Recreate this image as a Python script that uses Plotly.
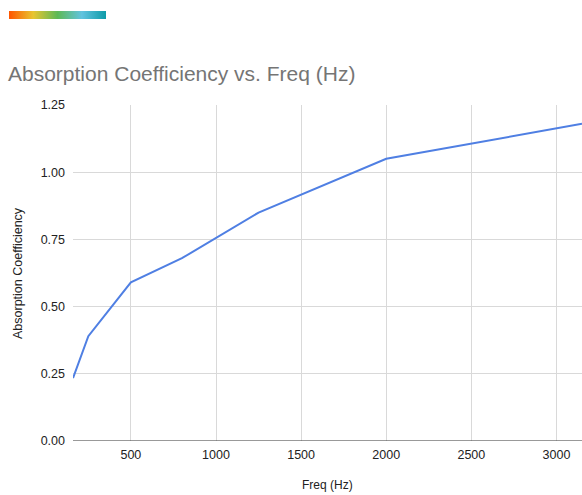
import base64
import plotly.graph_objects as go

freq_hz = [160, 250, 500, 800, 1250, 2000, 3150]
absorption = [0.234, 0.39, 0.59, 0.68, 0.85, 1.05, 1.18]
x_ticks = [500, 1000, 1500, 2000, 2500, 3000]
y_ticks = [0, 0.25, 0.5, 0.75, 1.0, 1.25]

svg = ('<svg xmlns="http://www.w3.org/2000/svg" width="100" height="8">'
       '<defs><linearGradient id="g" x1="0" x2="1" y1="0" y2="0">'
       '<stop offset="0" stop-color="#FF5500"/>'
       '<stop offset="0.25" stop-color="#E8C530"/>'
       '<stop offset="0.5" stop-color="#5DB956"/>'
       '<stop offset="0.75" stop-color="#62C3DF"/>'
       '<stop offset="1" stop-color="#0E9BA8"/>'
       '</linearGradient></defs>'
       '<rect width="100" height="8" fill="url(#g)"/></svg>')
src = "data:image/svg+xml;base64," + base64.b64encode(svg.encode()).decode()

W, H = 582, 495
ml, mr, mt, mb = 73, 0, 105, 54
pw, ph = W - ml - mr, H - mt - mb

fig = go.Figure()
fig.add_trace(go.Scatter(x=freq_hz, y=absorption, mode="lines",
                         line=dict(color="#4F7FE3", width=2), hoverinfo="x+y"))

fig.update_layout(
    width=W, height=H,
    margin=dict(l=ml, r=mr, t=mt, b=mb),
    paper_bgcolor="white", plot_bgcolor="white",
    font=dict(family="Liberation Sans, Arial, sans-serif", color="#222222", size=12),
    showlegend=False,
    title=dict(text="Absorption Coefficiency vs. Freq (Hz)", x=8 / W, xanchor="left",
               y=1 - 74 / H, yanchor="middle",
               font=dict(size=21, color="#757575")),
    xaxis=dict(range=[160, 3150], tickvals=x_ticks, showgrid=True, gridcolor="#D9D9D9",
               gridwidth=1, zeroline=False, showline=False, ticks="",
               ticklabelstandoff=4,
               tickfont=dict(size=12.5, color="#222222")),
    yaxis=dict(range=[0, 1.25], tickvals=y_ticks, tickformat=".2f", showgrid=True,
               gridcolor="#D9D9D9", gridwidth=1, zeroline=False, showline=False,
               ticks="", ticklabelstandoff=7, tickfont=dict(size=12.5, color="#222222")),
    images=[dict(source=src, xref="paper", yref="paper",
                 x=(9 - ml) / pw, y=1 + (mt - 11) / ph,
                 sizex=97 / pw, sizey=8 / ph,
                 xanchor="left", yanchor="top", sizing="stretch", layer="above")],
    annotations=[
        dict(text="Freq (Hz)", xref="paper", yref="paper", x=(327 - ml) / pw,
             y=-(485 - (H - mb)) / ph, xanchor="center", yanchor="middle",
             showarrow=False, font=dict(size=12, color="#222222")),
        dict(text="Absorption Coefficiency", xref="paper", yref="paper",
             x=-(ml - 18) / pw, y=0.5, xanchor="center", yanchor="middle",
             textangle=-90, showarrow=False, font=dict(size=12.5, color="#222222")),
    ],
    shapes=[dict(type="line", xref="paper", yref="y", x0=0, x1=1, y0=0, y1=0,
                 line=dict(color="#333333", width=1))],
)

fig.write_html("out.html", config={"displayModeBar": False},
               post_script="document.body.style.margin='0';document.body.style.padding='0';")
